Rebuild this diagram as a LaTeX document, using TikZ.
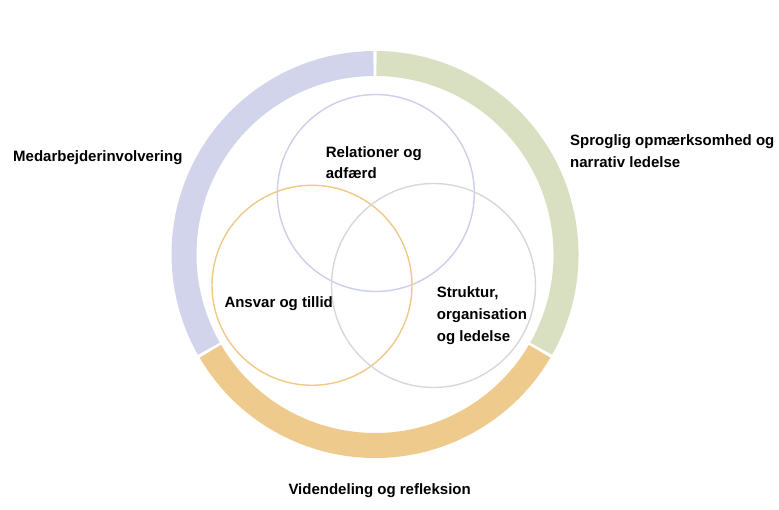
\documentclass[tikz,border=0pt]{standalone}
\usepackage{fontspec}
\setmainfont{Liberation Sans}
\usetikzlibrary{calc}
\definecolor{ringpurple}{RGB}{210,212,236}
\definecolor{ringgreen}{RGB}{217,223,193}
\definecolor{ringorange}{RGB}{239,202,141}
\definecolor{circpurple}{RGB}{205,205,236}
\definecolor{circorange}{RGB}{240,200,135}
\definecolor{circgrey}{RGB}{215,215,215}
\tikzset{
  ringseg/.style={line width=25pt},
  venn/.style={circle, draw, line width=1.4pt, inner sep=0pt},
  lbl/.style={anchor=base west, inner sep=0pt, align=left,
    font=\fontsize{15}{21.8}\selectfont\bfseries, text=black}
}
\begin{document}
\begin{tikzpicture}[x=1pt,y=1pt]
\useasboundingbox (0,0) rectangle (779,510);
\coordinate (c) at (375,255.5);
% outer ring segments
\draw[ringseg, ringpurple] ($(c)+(90.45:191)$) arc[start angle=90.45, end angle=209.55, radius=191];
\draw[ringseg, ringorange] ($(c)+(210.45:191)$) arc[start angle=210.45, end angle=329.55, radius=191];
\draw[ringseg, ringgreen] ($(c)+(330.45:191)$) arc[start angle=330.45, end angle=449.55, radius=191];
% venn circles
\node[venn, draw=circpurple, minimum size=197pt] (crel) at (375.8,317) {};
\node[venn, draw=circorange, minimum size=200pt] (cans) at (312,224.7) {};
\node[venn, draw=circgrey, minimum size=204pt] (cstr) at (433.5,224.5) {};
% labels (base = baseline of last line)
\node[lbl] (trel) at (325.7,331) {Relationer og\\adfærd};
\node[lbl] (tans) at (224.3,202.3) {Ansvar og tillid};
\node[lbl] (tstr) at (436.7,168.5) {Struktur,\\organisation\\og ledelse};
\node[lbl] (tmed) at (13,348.3) {Medarbejderinvolvering};
\node[lbl] (tspr) at (570,342.3) {Sproglig opmærksomhed og\\narrativ ledelse};
\node[lbl] (tvid) at (288.3,15) {Videndeling og refleksion};
\end{tikzpicture}
\end{document}
